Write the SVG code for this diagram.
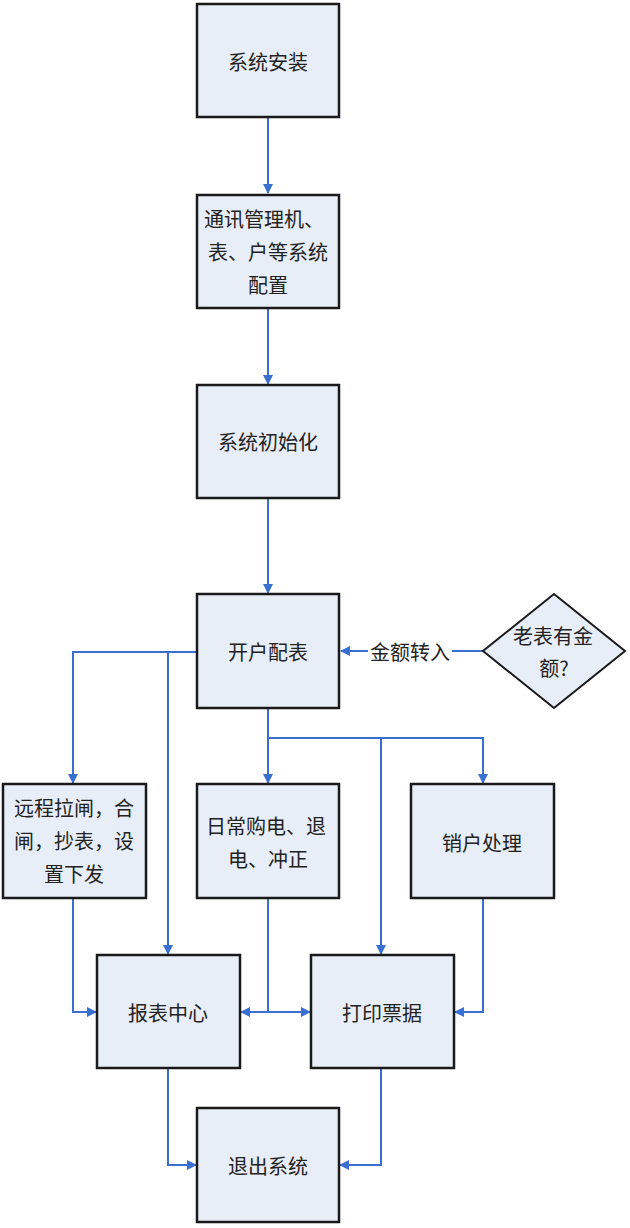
<svg xmlns="http://www.w3.org/2000/svg" width="630" height="1228" viewBox="0 0 630 1228">
<defs>
<marker id="arr" viewBox="0 0 10 10" refX="9" refY="5" markerWidth="10" markerHeight="10" markerUnits="userSpaceOnUse" orient="auto">
<path d="M0,0 L10,5 L0,10 Z" fill="#3a6fd2"/>
</marker>
<style>
.box{fill:#e8eef8;stroke:#1a1a1a;stroke-width:2.5}
.t{font-family:"Noto Sans CJK SC","Noto Sans CJK JP",sans-serif;font-size:20px;fill:#222;text-anchor:middle;dominant-baseline:central}
.c{fill:none;stroke:#3a6fd2;stroke-width:2}
</style>
</defs>
<rect width="630" height="1228" fill="#ffffff"/>
<g id="connectors">
<path class="c" d="M268,118 V193" marker-end="url(#arr)"/>
<path class="c" d="M268,308 V384" marker-end="url(#arr)"/>
<path class="c" d="M268,498 V593" marker-end="url(#arr)"/>
<path class="c" d="M483,651 H452"/>
<path class="c" d="M368,651 H341" marker-end="url(#arr)"/>
<path class="c" d="M197,652 H73 V783" marker-end="url(#arr)"/>
<path class="c" d="M168,652 V954" marker-end="url(#arr)"/>
<path class="c" d="M268,708 V783" marker-end="url(#arr)"/>
<path class="c" d="M268,738 H483 V783" marker-end="url(#arr)"/>
<path class="c" d="M381,738 V954" marker-end="url(#arr)"/>
<path class="c" d="M73,898 V1012 H96" marker-end="url(#arr)"/>
<path class="c" d="M268,898 V1012"/>
<path class="c" d="M268,1012 H241" marker-end="url(#arr)"/>
<path class="c" d="M268,1012 H310" marker-end="url(#arr)"/>
<path class="c" d="M483,898 V1012 H455" marker-end="url(#arr)"/>
<path class="c" d="M168,1068 V1165 H196" marker-end="url(#arr)"/>
<path class="c" d="M381,1068 V1165 H340" marker-end="url(#arr)"/>
</g>
<g id="n1"><rect class="box" x="197" y="4" width="142" height="113"/><text class="t" x="268" y="61">系统安装</text></g>
<g id="n2"><rect class="box" x="197" y="195" width="142" height="113"/>
<text class="t" x="264" y="218">通讯管理机、</text><text class="t" x="268" y="251">表、户等系统</text><text class="t" x="268" y="284">配置</text></g>
<g id="n3"><rect class="box" x="197" y="385" width="142" height="113"/><text class="t" x="268" y="441">系统初始化</text></g>
<g id="n4"><rect class="box" x="197" y="594" width="142" height="114"/><text class="t" x="268" y="651">开户配表</text></g>
<g id="label"><text class="t" x="410" y="651">金额转入</text></g>
<g id="n5"><polygon points="554,594 625,651 554,708 483,651" fill="#e8eef8" stroke="#1a1a1a" stroke-width="2"/>
<text class="t" x="553" y="635">老表有金</text><text class="t" x="554" y="667">额?</text></g>
<g id="n6"><rect class="box" x="3" y="784" width="143" height="114"/>
<text class="t" x="74" y="807">远程拉闸，合</text><text class="t" x="74" y="840">闸，抄表，设</text><text class="t" x="74" y="873">置下发</text></g>
<g id="n7"><rect class="box" x="197" y="784" width="142" height="114"/>
<text class="t" x="266" y="825">日常购电、退</text><text class="t" x="268" y="858">电、冲正</text></g>
<g id="n8"><rect class="box" x="411" y="784" width="143" height="114"/><text class="t" x="482" y="842">销户处理</text></g>
<g id="n9"><rect class="box" x="97" y="955" width="143" height="113"/><text class="t" x="168" y="1012">报表中心</text></g>
<g id="n10"><rect class="box" x="311" y="955" width="143" height="113"/><text class="t" x="382" y="1012">打印票据</text></g>
<g id="n11"><rect class="box" x="197" y="1108" width="142" height="114"/><text class="t" x="268" y="1165">退出系统</text></g>
</svg>
